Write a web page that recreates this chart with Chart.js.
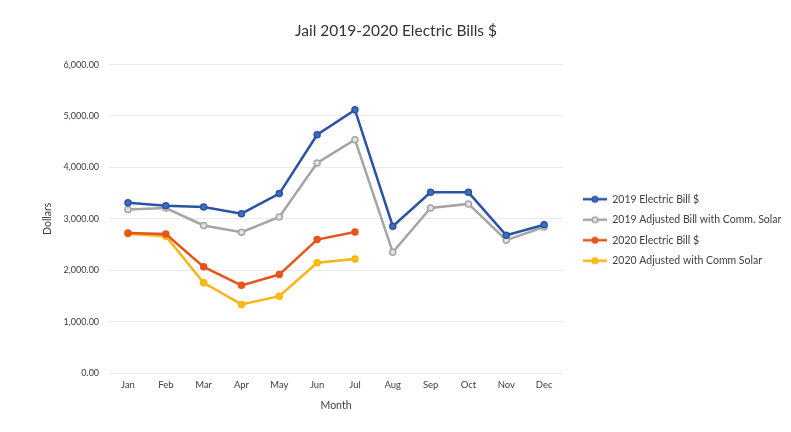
<!DOCTYPE html>
<html>
<head>
<meta charset="utf-8">
<script src="https://cdn.jsdelivr.net/npm/chart.js@4"></script>
<style>
html,body{margin:0;padding:0;background:#fff;}
#wrap{width:791px;height:432px;}
</style>
</head>
<body>
<div id="wrap"><canvas id="c" width="791" height="432"></canvas></div>
<script>
const months = ["Jan","Feb","Mar","Apr","May","Jun","Jul","Aug","Sep","Oct","Nov","Dec"];
const bill2019 = [3310, 3256, 3230, 3100, 3490, 4635, 5120, 2855, 3515, 3515, 2680, 2885];
const adj2019  = [3180, 3210, 2870, 2740, 3035, 4085, 4540, 2350, 3210, 3290, 2585, 2840];
const bill2020 = [2725, 2705, 2065, 1705, 1915, 2595, 2745, null, null, null, null, null];
const adj2020  = [2710, 2660, 1755, 1335, 1495, 2145, 2220, null, null, null, null, null];
const yTicks = [0, 1000, 2000, 3000, 4000, 5000, 6000];
const seriesNames = ["2019 Electric Bill $", "2019 Adjusted Bill with Comm. Solar", "2020 Electric Bill $", "2020 Adjusted with Comm Solar"];
const lineColors = ["#2A54A3", "#A5A5A5", "#E5561E", "#F7B516"];
const pointFills = ["#3A6FC4", "#E4E4E4", "#E5561E", "#FFC000"];

function legendIcon(color, fill){
  const c = document.createElement('canvas');
  c.width = 24; c.height = 10;
  const g = c.getContext('2d');
  g.strokeStyle = color; g.lineWidth = 2.5;
  g.beginPath(); g.moveTo(0,5); g.lineTo(24,5); g.stroke();
  g.lineWidth = 1.5;
  g.fillStyle = fill; g.beginPath(); g.arc(12,5,2.8,0,Math.PI*2); g.fill(); g.stroke();
  return c;
}

const dataArrays = [bill2019, adj2019, bill2020, adj2020];
const datasets = dataArrays.map((d,i)=>({
  label: seriesNames[i],
  data: d,
  borderColor: lineColors[i],
  backgroundColor: pointFills[i],
  pointBackgroundColor: pointFills[i],
  pointBorderColor: lineColors[i],
  borderWidth: 2.5,
  pointRadius: 3,
  pointBorderWidth: 1.5,
  tension: 0,
  spanGaps: false
}));

const placeBlocks = {
  id: 'placeBlocks',
  afterLayout(chart){
    const lg = chart.legend;
    if (lg) {
      const dx = 573 - lg.left, dy = 14;
      lg.left += dx; lg.right += dx + 80; lg.top += dy; lg.bottom += dy;
      if (lg.legendHitBoxes) lg.legendHitBoxes.forEach(b=>{ b.left += dx; b.top += dy; });
    }
    const t = chart.titleBlock;
    if (t) { t.left += 7; t.right += 7; }
  }
};

new Chart(document.getElementById('c'), {
  type: 'line',
  data: { labels: months, datasets: datasets },
  plugins: [placeBlocks],
  options: {
    responsive: false,
    animation: false,
    devicePixelRatio: 1,
    layout: { padding: { left: 41, right: 54, top: 16, bottom: 16 } },
    plugins: {
      title: {
        display: true,
        text: 'Jail 2019-2020 Electric Bills $',
        color: '#333333',
        font: { family: 'Lato', size: 15.5, weight: 'normal' },
        padding: { top: 6, bottom: 24 }
      },
      legend: {
        position: 'right',
        align: 'center',
        labels: {
          color: '#404040',
          font: { family: 'Lato', size: 10.5 },
          usePointStyle: true,
          pointStyleWidth: 24,
          boxHeight: 10,
          padding: 10,
          generateLabels: (chart) => chart.data.datasets.map((ds,i)=>({
            text: ds.label,
            pointStyle: legendIcon(lineColors[i], pointFills[i]),
            fillStyle: pointFills[i],
            strokeStyle: lineColors[i],
            fontColor: '#404040',
            lineWidth: 0,
            hidden: false,
            datasetIndex: i
          }))
        }
      },
      tooltip: { enabled: false }
    },
    scales: {
      x: {
        offset: true,
        grid: { display: false, drawTicks: false },
        border: { display: false },
        ticks: { color: '#404040', font: { family: 'Lato', size: 9.5 }, padding: 6 },
        title: { display: true, text: 'Month', color: '#404040', font: { family: 'Lato', size: 10.5 }, padding: { top: 3 } }
      },
      y: {
        min: 0, max: 6000,
        afterBuildTicks: (s) => { s.ticks = yTicks.map(v=>({value:v})); },
        grid: { color: '#EBEBEB', lineWidth: 1, drawTicks: false },
        border: { display: false },
        ticks: {
          color: '#404040', font: { family: 'Lato', size: 9 }, padding: 10,
          callback: (v) => Number(v).toLocaleString('en-US', {minimumFractionDigits:2, maximumFractionDigits:2})
        },
        title: { display: true, text: 'Dollars', color: '#404040', font: { family: 'Lato', size: 10.5 }, padding: { top: 0, bottom: 0 } }
      }
    }
  }
});
</script>
</body>
</html>
